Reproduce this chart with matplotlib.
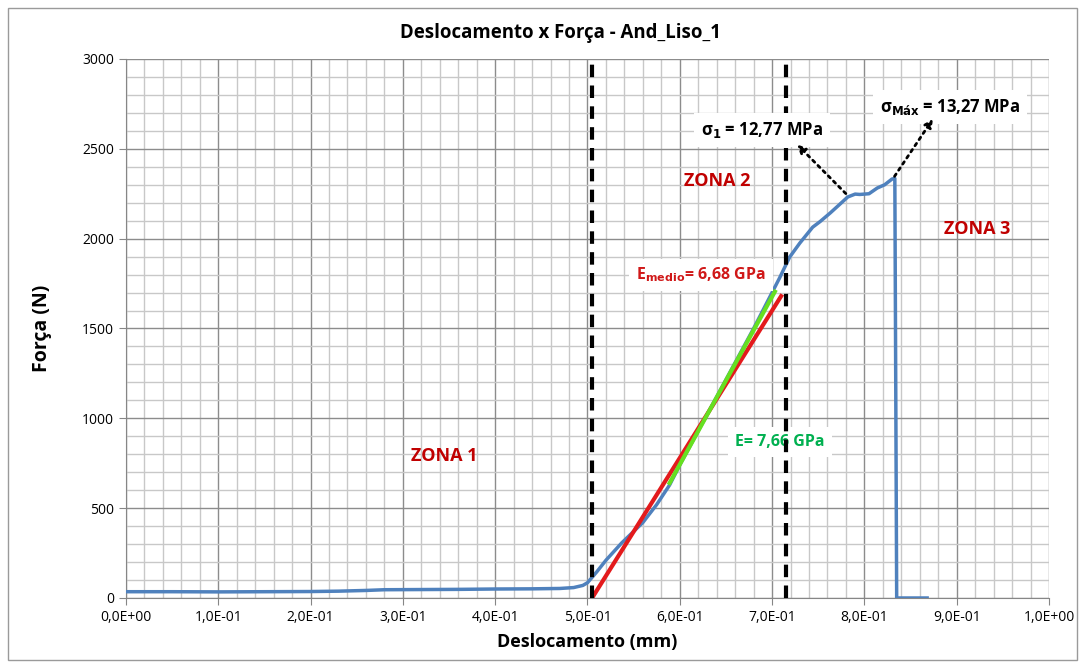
import numpy as np
import matplotlib
matplotlib.use('Agg')
import matplotlib.pyplot as plt
from matplotlib.ticker import MultipleLocator, FuncFormatter
from matplotlib.patches import Rectangle

plt.rcParams['font.family'] = ['Open Sans', 'DejaVu Sans']

# curve (displacement mm, force N)
desloc = [0.0, 0.05, 0.10, 0.15, 0.20, 0.23, 0.26, 0.28, 0.32, 0.36, 0.40, 0.44, 0.47, 0.485,
          0.495, 0.50, 0.51, 0.52, 0.537, 0.56, 0.575, 0.589, 0.60, 0.62, 0.64, 0.66,
          0.68, 0.70, 0.708, 0.719, 0.73, 0.744, 0.752, 0.763, 0.772, 0.782, 0.79, 0.795,
          0.805, 0.814, 0.822, 0.830, 0.833, 0.835, 0.85, 0.868]
forca = [35, 35, 34, 35, 36, 38, 42, 46, 47, 48, 50, 51, 53, 58,
         70, 85, 145, 210, 306, 420, 520, 629, 740, 930, 1120, 1310,
         1500, 1700, 1780, 1897, 1975, 2064, 2095, 2143, 2185, 2232, 2248, 2246,
         2250, 2282, 2300, 2332, 2335, 0, 0, 0]

# linear fits
red_x = [0.505, 0.711]
red_y = [0, 1690]
green_x = [0.589, 0.703]
green_y = [640, 1705]

# zone limits
zona_lim = [0.505, 0.715]

fig = plt.figure(figsize=(10.85, 6.68), dpi=100)
ax = fig.add_axes([0.1161, 0.1048, 0.8507, 0.8069])

ax.plot(desloc, forca, color='#4F81BD', lw=2.5, zorder=3)
ax.plot(red_x, red_y, color='#E31A1C', lw=3, zorder=4, solid_capstyle='butt')
ax.plot(green_x, green_y, color='#66E020', lw=3, zorder=5)
for xv in zona_lim:
    ax.axvline(xv, color='black', lw=3, ls=(0, (3, 2)), zorder=6)

ax.set_xlim(0, 1.0)
ax.set_ylim(0, 3000)
ax.xaxis.set_major_locator(MultipleLocator(0.1))
ax.xaxis.set_minor_locator(MultipleLocator(0.02))
ax.yaxis.set_major_locator(MultipleLocator(500))
ax.yaxis.set_minor_locator(MultipleLocator(100))
ax.xaxis.set_major_formatter(FuncFormatter(lambda v, p: ('%.1E' % v).replace('.', ',')))
ax.grid(which='major', color='#8C8C8C', lw=1.0, zorder=0)
ax.grid(which='minor', color='#C8C8C8', lw=1.0, zorder=0)
ax.set_axisbelow(True)
for s in ['top', 'right']:
    ax.spines[s].set_visible(False)
ax.spines['left'].set_color('#868686')
ax.spines['bottom'].set_color('#868686')
ax.tick_params(which='major', length=5, color='#868686', labelsize=10)
ax.tick_params(which='minor', length=0)

ax.set_title('Deslocamento x Força - And_Liso_1', fontsize=13.4, fontweight='bold', pad=15, x=0.471)
ax.set_xlabel('Deslocamento (mm)', fontsize=13, fontweight='bold', labelpad=6)
ax.set_ylabel('Força (N)', fontsize=14, fontweight='bold', labelpad=22)

zc = '#C00000'
ax.text(0.345, 790, 'ZONA 1', color=zc, fontsize=13, fontweight='bold', ha='center', va='center')
ax.text(0.641, 2320, 'ZONA 2', color=zc, fontsize=13, fontweight='bold', ha='center', va='center')
ax.text(0.922, 2053, 'ZONA 3', color=zc, fontsize=13, fontweight='bold', ha='center', va='center')

box = dict(facecolor='white', edgecolor='none', pad=5)
ax.text(0.623, 1797, r'E$_{\mathbf{medio}}$= 6,68 GPa', color='#D01818', fontsize=11.5,
        fontweight='bold', ha='center', va='center', bbox=box, zorder=7)
ax.text(0.7086, 868, 'E= 7,66 GPa', color='#00B050', fontsize=11.5, fontweight='bold',
        ha='center', va='center', bbox=box, zorder=5.5)
ax.text(0.689, 2605, r'σ$_{\mathbf{1}}$ = 12,77 MPa', color='black', fontsize=12,
        fontweight='bold', ha='center', va='center', bbox=box, zorder=7)
ax.text(0.893, 2733, r'σ$_{\mathbf{Máx}}$ = 13,27 MPa', color='black', fontsize=12,
        fontweight='bold', ha='center', va='center', bbox=box, zorder=7)

arrow = dict(arrowstyle='-|>', ls=':', lw=2, color='black', mutation_scale=12)
ax.annotate('', xy=(0.725, 2535), xytext=(0.782, 2240), arrowprops=arrow, zorder=8)
ax.annotate('', xy=(0.876, 2680), xytext=(0.831, 2334), arrowprops=arrow, zorder=8)

fig.patches.append(Rectangle((8 / 1085, 8 / 668), 1069 / 1085, 652 / 668, transform=fig.transFigure,
                             fill=False, edgecolor='#9A9A9A', lw=1))

fig.savefig('out.png', dpi=100)
